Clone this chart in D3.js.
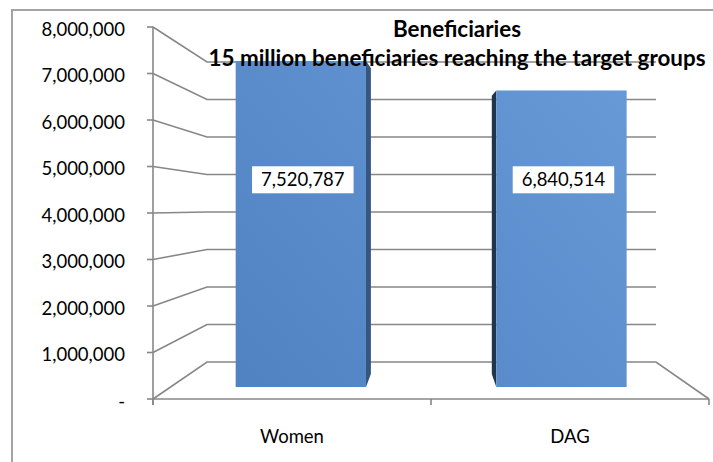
<!DOCTYPE html>
<html><head><meta charset="utf-8">
<script src="https://cdn.jsdelivr.net/npm/d3@7"></script>
<style>body{margin:0;background:#fff}svg{display:block}</style>
</head><body>
<svg id="c" width="713" height="462"></svg>
<script>
// ---- data ----
const categories = ["Women", "DAG"];
const values = [7520787, 6840514];
const tickValues = [0, 1000000, 2000000, 3000000, 4000000, 5000000, 6000000, 7000000, 8000000];
const tickLabels = ["-", "1,000,000", "2,000,000", "3,000,000", "4,000,000", "5,000,000", "6,000,000", "7,000,000", "8,000,000"];
const titleLines = ["Beneficiaries", "15 million beneficiaries reaching the target groups"];

// ---- layout ----
const svg = d3.select("#c");
const FONT = "Lato, 'Open Sans', sans-serif";
const gridColor = "#878787";
const yMax = 8000000;

// planes of the 3D box (front floor edge / back wall)
const yFront = d3.scaleLinear().domain([0, yMax]).range([399, 27]);
const yBackWall = d3.scaleLinear().domain([0, yMax]).range([362, 62]);
const xFrontL = 153, xFrontR = 709, xBackL = 207, xBackR = 656;
// bar front face plane and bar rear plane
const yFace = d3.scaleLinear().domain([0, yMax]).range([387, 40.2]);
const yRear = d3.scaleLinear().domain([0, yMax]).range([374, 48.5]);
const xCat = d3.scaleBand().domain(categories).range([xFrontL, xFrontR]);
const xFace = d3.scaleBand().domain(categories).range([170.5, 691.8]).paddingInner(0.5).paddingOuter(0.25);
const xRear = d3.scaleBand().domain(categories).range([189.5, 673.2]).paddingInner(0.5).paddingOuter(0.25);
const vanishX = (xFrontL + xFrontR) / 2;

// outer frame
svg.append("rect").attr("x", 12).attr("y", 10).attr("width", 720).attr("height", 470)
  .attr("fill", "#fff").attr("stroke", "#a3a3a3").attr("stroke-width", 2);

// defs
const defs = svg.append("defs");
const g1 = defs.append("linearGradient").attr("id", "face").attr("gradientUnits", "userSpaceOnUse")
  .attr("x1", 236).attr("y1", 390).attr("x2", 626).attr("y2", 60);
g1.append("stop").attr("offset", 0).attr("stop-color", "#5081c1");
g1.append("stop").attr("offset", 1).attr("stop-color", "#689ad8");

// gridlines (walls)
const grid = svg.append("g").attr("fill", "none").attr("stroke", gridColor).attr("stroke-width", 1.6);
tickValues.forEach(v => {
  if (v === 0) return;
  grid.append("path").attr("d", d3.line()([[xFrontL, yFront(v)], [xBackL, yBackWall(v)], [xBackR, yBackWall(v)]]));
});
// floor
grid.append("path").attr("d", d3.line()([[xFrontL, yFront(0)], [xBackL, yBackWall(0)], [xBackR, yBackWall(0)], [xFrontR, yFront(0)]]));
grid.append("path").attr("d", d3.line()([[xFrontL, yFront(0)], [xFrontR, yFront(0)]]));
// vertical axis line
grid.append("path").attr("d", d3.line()([[xFrontL, yFront(yMax)], [xFrontL, yFront(0) + 6]]));
// y ticks
tickValues.forEach(v => {
  grid.append("path").attr("d", d3.line()([[xFrontL - 6, yFront(v)], [xFrontL, yFront(v)]]));
});
// x ticks at band edges
const xEdges = [xFrontL, ...categories.map(c => xCat(c) + xCat.bandwidth())];
xEdges.forEach(x => grid.append("path").attr("d", d3.line()([[x, yFront(0)], [x, yFront(0) + 6]])));

// y tick labels
svg.append("g").selectAll("text").data(tickValues).join("text")
  .attr("x", 125).attr("y", v => yFront(v) + 8.5)
  .attr("text-anchor", "end").attr("font-family", FONT).attr("font-size", 18.5).attr("fill", "#000")
  .text((v, i) => tickLabels[i]);

// category labels
svg.append("g").selectAll("text").data(categories).join("text")
  .attr("x", c => xCat(c) + xCat.bandwidth() / 2).attr("y", 443)
  .attr("text-anchor", "middle").attr("font-family", FONT).attr("font-size", 18.5).attr("fill", "#000")
  .text(c => c);

// bars
const bars = svg.append("g");
categories.forEach((c, i) => {
  const v = values[i];
  const fl = xFace(c), fr = xFace(c) + xFace.bandwidth();
  const rl = xRear(c), rr = xRear(c) + xRear.bandwidth();
  const center = fl + xFace.bandwidth() / 2;
  let side;
  if (center < vanishX) {
    side = [[fr, yFace(v)], [rr, yRear(v)], [rr, yRear(0)], [fr, yFace(0)]];
  } else {
    side = [[fl, yFace(v)], [rl, yRear(v)], [rl, yRear(0)], [fl, yFace(0)]];
  }
  bars.append("path").attr("d", d3.line()(side) + "Z")
    .attr("fill", center < vanishX ? "#36557f" : "#1f344f");
  bars.append("rect").attr("x", fl).attr("y", yFace(v))
    .attr("width", fr - fl).attr("height", yFace(0) - yFace(v)).attr("fill", "url(#face)");
});

// title
const title = svg.append("g").attr("font-family", FONT).attr("font-weight", "bold").attr("fill", "#000")
  .attr("text-anchor", "middle");
title.append("text").attr("x", 457).attr("y", 37).attr("font-size", 22.4).text(titleLines[0]);
title.append("text").attr("x", 457).attr("y", 66).attr("font-size", 22.4).text(titleLines[1]);

// data labels
const labelAnchor = 4780000;
const fmt = d3.format(",");
categories.forEach((c, i) => {
  const cx = xFace(c) + xFace.bandwidth() / 2 + 2;
  const cy = yFace(labelAnchor);
  const g = svg.append("g");
  const rect = g.append("rect").attr("fill", "#fff");
  const t = g.append("text").attr("x", cx).attr("y", cy + 6.5).attr("text-anchor", "middle")
    .attr("font-family", FONT).attr("font-size", 18.5).attr("fill", "#000").text(fmt(values[i]));
  const w = t.node().getComputedTextLength();
  rect.attr("x", cx - w / 2 - 9).attr("y", cy - 13.5).attr("width", w + 18).attr("height", 27);
});
</script>
</body></html>
